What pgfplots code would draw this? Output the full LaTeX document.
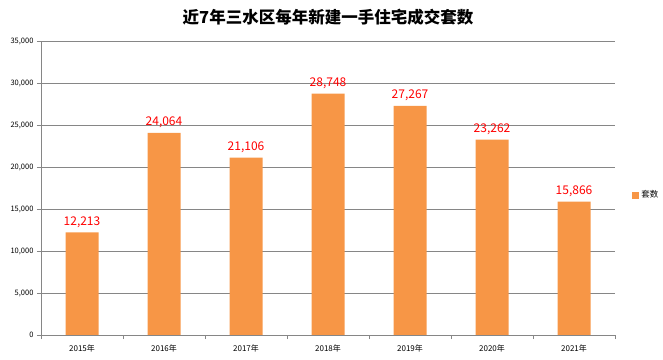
\documentclass[border=0pt]{standalone}
\usepackage{pgfplots}
\pgfplotsset{compat=1.18}
\usepackage{fontspec}
\setmainfont{Noto Sans CJK SC}
\definecolor{barorange}{HTML}{F79646}
\definecolor{gridgray}{HTML}{868686}
\begin{document}
\begin{tikzpicture}
\path[use as bounding box] (0,0) rectangle (663bp,360bp);
\begin{axis}[
  at={(41bp,25bp)}, anchor=south west,
  scale only axis, width=574bp, height=294bp,
  xmin=-0.5, xmax=6.5, ymin=0, ymax=35000,
  ytick={0,5000,...,35000},
  xtick={0,...,6},
  xticklabels={2015年,2016年,2017年,2018年,2019年,2020年,2021年},
  minor xtick={-0.5,0.5,...,6.5},
  major x tick style={draw=none},
  tick align=outside,
  major tick length=4bp, minor tick length=4bp,
  tick style={gridgray, line width=0.8bp},
  ymajorgrids, grid style={gridgray, line width=0.8bp},
  axis x line*=bottom, axis y line*=left,
  x axis line style={gridgray, line width=0.8bp, -},
  y axis line style={gridgray, line width=0.8bp, -},
  /pgf/number format/assume math mode=true,
  /pgf/number format/1000 sep={,},
  scaled y ticks=false,
  y tick label style={font=\fontsize{7.5bp}{8bp}\selectfont, xshift=0bp},
  x tick label style={font=\fontsize{8bp}{9bp}\selectfont, yshift=-2bp},
  ybar, bar width=33bp,
  nodes near coords,
  nodes near coords style={font=\fontsize{12bp}{13bp}\selectfont, text=red, yshift=1.5bp,
    /pgf/number format/1000 sep={,}, /pgf/number format/assume math mode=true},
  title={\bfseries 近7年三水区每年新建一手住宅成交套数},
  title style={font=\fontsize{16.5bp}{18bp}\selectfont, at={(0.5,1)}, yshift=6bp},
  legend style={at={(1.03,0.476)}, anchor=west, draw=none, fill=none,
    font=\fontsize{8.5bp}{9bp}\selectfont, inner sep=0pt},
  legend image code/.code={\fill[barorange] (0bp,-4bp) rectangle (7bp,3bp);},
]
\addplot[fill=barorange, draw=none] coordinates {
  (0,12213) (1,24064) (2,21106) (3,28748) (4,27267) (5,23262) (6,15866)
};
\addlegendentry{套数}
\end{axis}
\end{tikzpicture}
\end{document}
